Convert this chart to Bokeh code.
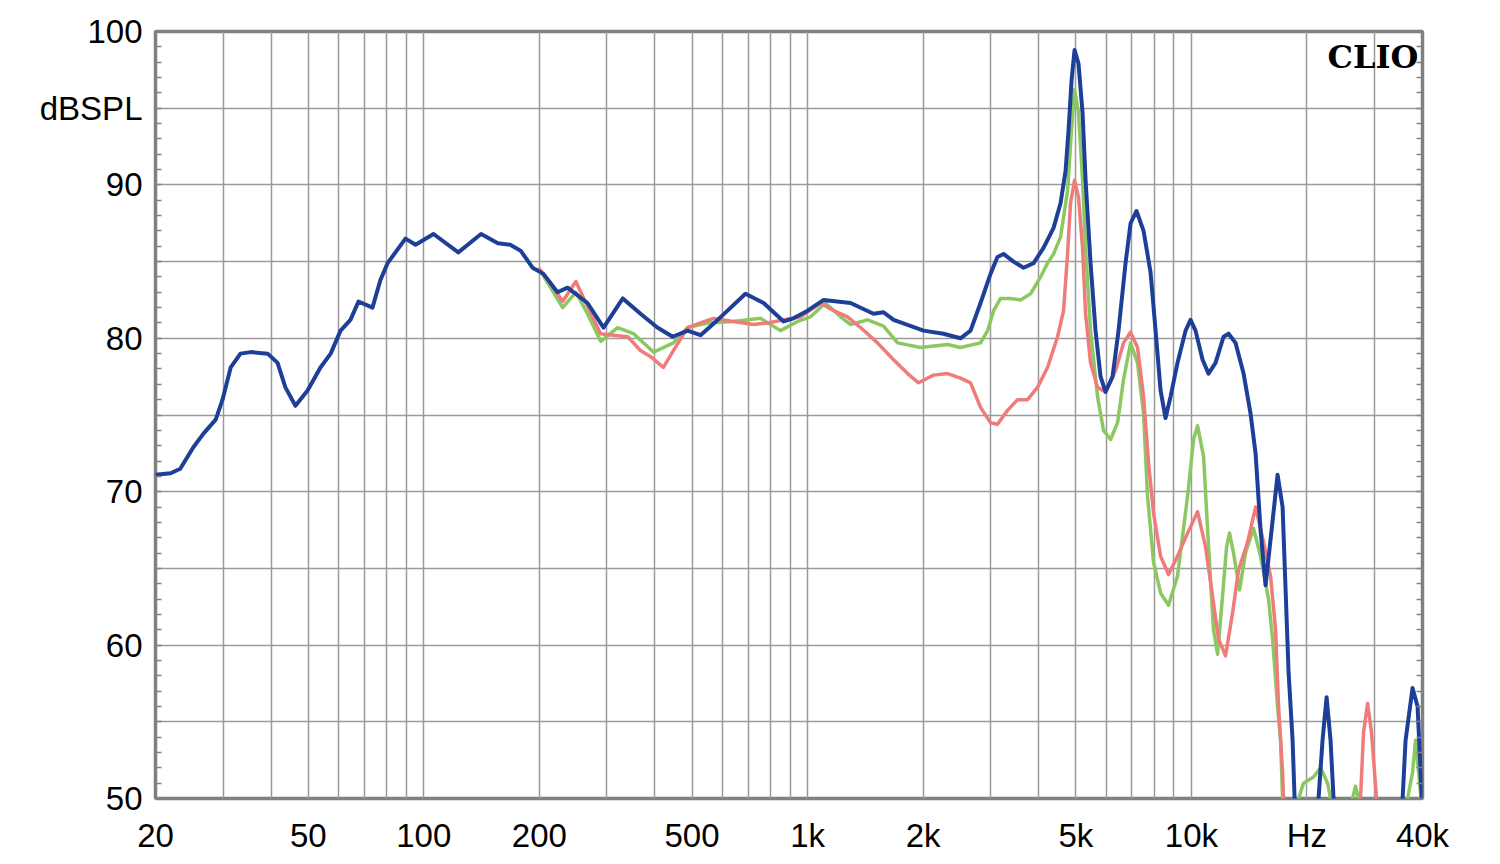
from bokeh.plotting import figure
from bokeh.models import FixedTicker, LinearAxis, Label, Range1d
from bokeh.embed import file_html
from bokeh.resources import INLINE

# ---- data (frequency in Hz, level in dB SPL); values below 50 dB run off the chart ----
blue_f = [20, 21.9, 23.2, 25.1, 26.7, 28.7, 29.9, 31.4, 33.3, 35.4, 39.2, 41.6, 43.6, 46.3, 49.8,
          53.8, 57.2, 60.7, 64.4, 67.6, 73.5, 77.1, 80.5, 89.6, 95.2, 106, 123, 141, 156, 168, 179,
          192, 205, 223, 237, 267, 294, 330, 367, 406, 445, 487, 526, 583, 689, 768, 866, 919,
          1000, 1101, 1294, 1485, 1577, 1675, 2005, 2260, 2502, 2658, 2822, 2996, 3124, 3240,
          3440, 3654, 3880, 4118, 4374, 4560, 4700, 4786, 4872, 4960, 5080, 5204, 5300, 5460,
          5626, 5798, 5974, 6230, 6458, 6736, 6942, 7194, 7504, 7826, 8066, 8310, 8562, 8824,
          9200, 9656, 9948, 10250, 10692, 11082, 11556, 12126, 12496, 13032, 13674, 14256,
          14694, 15142, 15602, 16078, 16768, 17280, 17594, 17914, 18348, 18570, 19000, 21000,
          21440, 21960, 22500, 23040, 23460, 24460, 34240, 35500, 36140, 37680, 38840, 39540,
          40000]
blue_db = [71.1, 71.2, 71.5, 72.9, 73.8, 74.7, 76.0, 78.1, 79.0, 79.1, 79.0, 78.4, 76.8, 75.6, 76.6,
           78.1, 79.0, 80.5, 81.2, 82.4, 82.0, 83.8, 84.9, 86.5, 86.1, 86.8, 85.6, 86.8, 86.2, 86.1, 85.7,
           84.6, 84.2, 83.0, 83.3, 82.3, 80.7, 82.6, 81.6, 80.7, 80.1, 80.5, 80.2, 81.2, 82.9, 82.3, 81.1, 81.3,
           81.8, 82.5, 82.3, 81.6, 81.7, 81.2, 80.5, 80.3, 80.0, 80.5, 82.3, 84.2, 85.3, 85.5,
           85.0, 84.6, 84.9, 85.9, 87.2, 88.8, 90.9, 93.6, 96.8, 98.8, 97.9, 94.7, 90.3, 84.9,
           80.5, 77.5, 76.5, 77.5, 80.5, 84.9, 87.5, 88.3, 87.0, 84.3, 80.5, 76.6, 74.8, 76.2,
           78.4, 80.5, 81.2, 80.5, 78.6, 77.7, 78.4, 80.1, 80.3, 79.7, 77.7, 75.1,
           72.5, 67.5, 63.9, 66.9, 71.1, 69.0, 63.6, 58.2, 53.8, 50.0, 44.0, 44.0,
           50.0, 53.8, 56.6, 53.8, 50.0, 44.0, 44.0, 50.0, 53.8, 57.2, 56.0, 51.7,
           49.0]

red_f = [199, 214, 230, 249, 268, 289, 312, 340, 367, 390, 421, 447, 487, 526, 569, 641, 723, 786,
         866, 959, 1081, 1169, 1271, 1374, 1521, 1675, 1822, 1946, 2129, 2316, 2502, 2658, 2822,
         2996, 3124, 3318, 3524, 3742, 3972, 4218, 4480, 4644, 4756, 4842, 4960, 5080, 5204, 5300,
         5460, 5694, 5974, 6344, 6654, 6942, 7238, 7504, 7732, 7968, 8310, 8720, 9200, 9772,
         10376, 10884, 11350, 11766, 12272, 12800, 13268, 14004, 14694, 15418, 16078, 16568,
         16868, 17280, 17490, 18500, 26000, 27580, 28080, 28780, 29460, 30360, 32040, 40000]
red_db = [84.6, 83.6, 82.4, 83.7, 82.0, 80.3, 80.2, 80.1, 79.2, 78.8, 78.1, 79.2, 80.7, 81.0, 81.3, 81.1, 80.9, 81.0,
          81.2, 81.4, 82.3, 81.8, 81.4, 80.7, 79.7, 78.6, 77.7, 77.1, 77.6, 77.7, 77.4, 77.1, 75.5,
          74.5, 74.4, 75.3, 76.0, 76.0, 76.8, 78.1, 80.1, 81.8, 85.5, 88.8, 90.3, 89.2, 85.9, 81.6,
          78.4, 76.8, 76.5, 77.9, 79.7, 80.4, 79.4, 76.2, 71.9, 68.6, 65.8, 64.6, 65.8, 67.3,
          68.7, 66.4, 63.2, 60.4, 59.3, 62.1, 64.9, 66.7, 69.0, 66.7, 64.5, 61.0,
          56.0, 51.7, 48.0, 44.0, 44.0, 50.0, 54.3, 56.2, 54.3, 50.0, 44.0, 44.0]

green_f = [199, 214, 230, 249, 267, 289, 320, 352, 397, 447, 487, 549, 641, 754, 850, 941, 1018, 1113,
           1219, 1294, 1433, 1577, 1716, 1969, 2316, 2502, 2822, 2944, 3052, 3182, 3378, 3588, 3810,
           4046, 4218, 4374, 4560, 4756, 4872, 4960, 5080, 5204, 5300, 5460, 5694, 5902, 6156, 6420,
           6654, 6942, 7238, 7504, 7686, 7968, 8310, 8720, 9200, 9772, 10128, 10376, 10756, 11082,
           11418, 11698, 12054, 12346, 12570, 12876, 13348, 13836, 14514, 15142, 15884, 16270,
           16768, 17072, 17280, 17490, 18000, 18800, 19022, 19594, 20800, 21700, 22640, 23040,
           23500, 25700, 26300, 26760, 27240, 27800, 35500, 36580, 37680, 38380, 39080, 40000]
green_db = [84.6, 83.3, 82.0, 83.0, 81.6, 79.8, 80.7, 80.3, 79.1, 79.7, 80.7, 81.0, 81.1, 81.3, 80.5, 81.1, 81.4, 82.3,
            81.4, 80.9, 81.2, 80.8, 79.7, 79.4, 79.6, 79.4, 79.7, 80.5, 81.8, 82.6, 82.6, 82.5, 82.9,
            84.0, 84.9, 85.5, 86.6, 89.6, 93.6, 96.2, 94.7, 90.3, 85.9, 80.5, 76.2, 74.0, 73.4, 74.5,
            77.3, 79.7, 78.4, 75.1, 69.7, 65.4, 63.4, 62.6, 64.5, 69.7, 73.4, 74.3, 72.3, 66.4,
            61.0, 59.4, 63.2, 66.4, 67.3, 66.0, 63.6, 66.0, 67.6, 65.8, 63.0, 60.4,
            56.0, 53.8, 50.0, 47.0, 44.0, 44.0, 50.0, 51.0, 51.4, 52.0, 51.0, 50.0,
            44.0, 44.0, 50.0, 50.8, 50.0, 44.0, 44.0, 50.0, 51.7, 53.8, 51.7, 49.0]

x_ticks = [20, 30, 40, 50, 60, 70, 80, 90, 100, 200, 300, 400, 500, 600, 700, 800, 900,
           1000, 2000, 3000, 4000, 5000, 6000, 7000, 8000, 9000, 10000, 20000, 30000, 40000]
x_labels = {20: "20", 50: "50", 100: "100", 200: "200", 500: "500", 1000: "1k", 2000: "2k",
            5000: "5k", 10000: "10k", 20000: "Hz", 40000: "40k"}
y_ticks = [50, 55, 60, 65, 70, 75, 80, 85, 90, 95, 100]
y_labels = {50: "50", 60: "60", 70: "70", 80: "80", 90: "90", 95: "dBSPL", 100: "100"}

FONT = "Liberation Sans"
GRID = "#9a9a9a"
FRAME = "#808080"

p = figure(width=1484, height=856, x_axis_type="log", output_backend="svg",
           toolbar_location=None, x_range=Range1d(20, 40000), y_range=Range1d(50, 100),
           min_border_left=155, min_border_right=62, min_border_top=31, min_border_bottom=57)
p.background_fill_color = "white"
p.border_fill_color = "white"
p.outline_line_color = FRAME
p.outline_line_width = 3.5

xa = p.xaxis[0]
xa.ticker = FixedTicker(ticks=x_ticks, minor_ticks=[])
xa.major_label_overrides = {t: x_labels.get(t, "") for t in x_ticks}
xa.axis_line_color = None
xa.major_tick_line_color = None
xa.minor_tick_line_color = None
xa.major_label_text_font = FONT
xa.major_label_text_font_size = "33px"
xa.major_label_text_color = "black"
xa.major_label_standoff = 12

ya = p.yaxis[0]
ya.ticker = FixedTicker(ticks=y_ticks, minor_ticks=list(range(50, 101)))
ya.major_label_overrides = {t: y_labels.get(t, "") for t in y_ticks}
ya.axis_line_color = None
ya.major_tick_line_color = None
ya.minor_tick_in = 6
ya.minor_tick_out = 0
ya.minor_tick_line_color = FRAME
ya.minor_tick_line_width = 1.5
ya.major_label_text_font = FONT
ya.major_label_text_font_size = "33px"
ya.major_label_text_color = "black"
ya.major_label_standoff = 7

ra = LinearAxis(ticker=FixedTicker(ticks=[], minor_ticks=list(range(50, 101))))
ra.axis_line_color = None
ra.major_tick_line_color = None
ra.minor_tick_in = 6
ra.minor_tick_out = 0
ra.minor_tick_line_color = FRAME
ra.minor_tick_line_width = 1.5
ra.major_label_text_font_size = "0px"
p.add_layout(ra, "right")

p.xgrid.grid_line_color = GRID
p.xgrid.grid_line_width = 1.5
p.ygrid.grid_line_color = GRID
p.ygrid.grid_line_width = 1.5
p.ygrid.ticker = FixedTicker(ticks=y_ticks)

p.line(green_f, green_db, line_color="#8cc862", line_width=3.5, line_join="round")
p.line(red_f, red_db, line_color="#ef7b7b", line_width=3.5, line_join="round")
p.line(blue_f, blue_db, line_color="#1e3f98", line_width=4, line_join="round")

p.add_layout(Label(x=39000, y=99.6, text="CLIO", text_align="right", text_baseline="top",
                   text_font="DejaVu Serif", text_font_style="bold", text_font_size="32px",
                   text_color="black"))

open("out.html", "w").write(file_html(p, INLINE))
